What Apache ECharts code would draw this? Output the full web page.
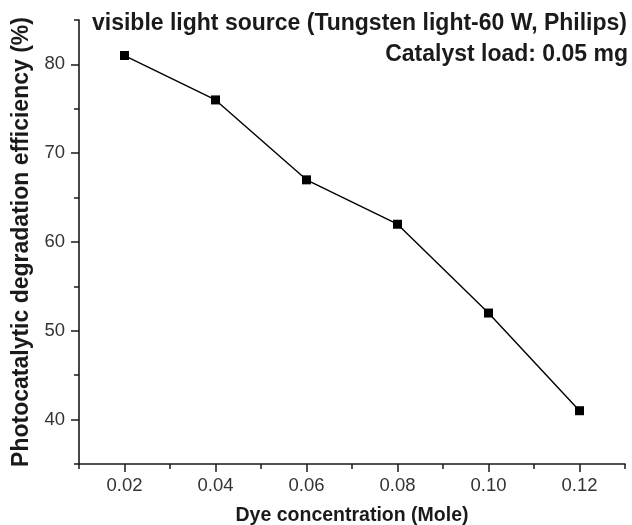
<!DOCTYPE html>
<html>
<head>
<meta charset="utf-8">
<script src="https://cdn.jsdelivr.net/npm/echarts@6/dist/echarts.min.js"></script>
<style>html,body{margin:0;padding:0;background:#fff}#c{width:632px;height:525px}</style>
</head>
<body>
<div id="c"></div>
<script>
const concentrations = [0.02, 0.04, 0.06, 0.08, 0.10, 0.12];
const efficiency = [81, 76, 67, 62, 52, 41];
const xMajorTicks = [0.02, 0.04, 0.06, 0.08, 0.10, 0.12];
const xMinorTicks = [0.01, 0.03, 0.05, 0.07, 0.09, 0.11, 0.13];
const yMajorTicks = [40, 50, 60, 70, 80];
const yMinorTicks = [35, 45, 55, 65, 75, 85];

const FONT = '"Liberation Sans", Arial, Helvetica, sans-serif';
const chart = echarts.init(document.getElementById('c'));
const axisCommonX = {
  type: 'value', min: 0.01, max: 0.13, position: 'bottom',
  splitLine: {show: false}
};
const axisCommonY = {
  type: 'value', min: 35, max: 85, position: 'left',
  splitLine: {show: false}
};
const lineCol = '#1a1a1a';
chart.setOption({
  animation: false,
  title: [
    {text: 'visible light source (Tungsten light-60 W, Philips)', right: 5, top: 12.5, padding: 0,
     textStyle: {fontFamily: FONT, fontSize: 23, fontWeight: 'bold', color: '#1a1a1a'}},
    {text: 'Catalyst load: 0.05 mg', right: 4, top: 43, padding: 0,
     textStyle: {fontFamily: FONT, fontSize: 23, fontWeight: 'bold', color: '#1a1a1a'}}
  ],
  grid: {left: 79, right: 7, top: 20, bottom: 61, containLabel: false, outerBoundsMode: 'none'},
  xAxis: [
    Object.assign({}, axisCommonX, {
      name: 'Dye concentration (Mole)', nameLocation: 'middle', nameGap: 42,
      nameTextStyle: {fontFamily: FONT, fontSize: 19.5, fontWeight: 'bold', color: '#1a1a1a'},
      axisLine: {lineStyle: {color: lineCol, width: 1.6}},
      axisTick: {inside: false, length: 5, customValues: xMinorTicks, lineStyle: {color: lineCol, width: 1.5}},
      axisLabel: {customValues: xMajorTicks, margin: 12, fontFamily: FONT, fontSize: 18.5, color: '#333',
        formatter: v => v.toFixed(2)}
    }),
    Object.assign({}, axisCommonX, {
      axisLine: {show: false},
      axisTick: {inside: false, length: 8, customValues: xMajorTicks, lineStyle: {color: lineCol, width: 1.5}},
      axisLabel: {show: false}
    })
  ],
  yAxis: [
    Object.assign({}, axisCommonY, {
      name: 'Photocatalytic degradation efficiency (%)', nameLocation: 'middle', nameGap: 44,
      nameTextStyle: {fontFamily: FONT, fontSize: 23, fontWeight: 'bold', color: '#1a1a1a'},
      axisLine: {show: true, lineStyle: {color: lineCol, width: 1.6}},
      axisTick: {show: true, inside: false, length: 5, customValues: yMinorTicks, lineStyle: {color: lineCol, width: 1.5}},
      axisLabel: {customValues: yMajorTicks, margin: 14, fontFamily: FONT, fontSize: 18.5, color: '#333'}
    }),
    Object.assign({}, axisCommonY, {
      axisLine: {show: false},
      axisTick: {show: true, inside: false, length: 8, customValues: yMajorTicks, lineStyle: {color: lineCol, width: 1.5}},
      axisLabel: {show: false}
    })
  ],
  series: [{
    type: 'line',
    data: concentrations.map((c, i) => [c, efficiency[i]]),
    symbol: 'rect', symbolSize: 9,
    itemStyle: {color: '#000'},
    lineStyle: {color: '#000', width: 1.4}
  }]
});
</script>
</body>
</html>
